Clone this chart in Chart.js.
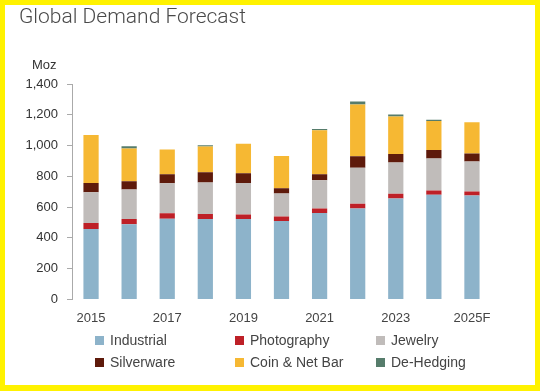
<!DOCTYPE html>
<html>
<head>
<meta charset="utf-8">
<script src="https://cdn.jsdelivr.net/npm/chart.js@4"></script>
<style>
  body { margin: 0; background: #FFF200; font-family: "Liberation Sans", Arial, sans-serif; }
  #frame { position: absolute; left: 5px; top: 5px; width: 530px; height: 380px; background: #fff; }
  #wrap { position: absolute; left: 0; top: 0; width: 540px; height: 391px; }
  #title { position: absolute; left: 19px; top: 4px; font-family: Roboto, sans-serif; font-weight: 300; font-size: 21px; color: #4a4a4a; }
  #unit { position: absolute; left: 32px; top: 57px; font-size: 13px; color: #333; }
  #legend { position: absolute; left: 95px; top: 331px; width: 430px; }
  .item { position: absolute; font-size: 14px; color: #444; white-space: nowrap; line-height: 18px; }
  .box { display: inline-block; width: 9px; height: 9px; margin-right: 6px; vertical-align: 0px; }
</style>
</head>
<body>
<div id="frame"></div>
<div id="wrap"><canvas id="myChart"></canvas></div>
<div id="title">Global Demand Forecast</div>
<div id="unit">Moz</div>
<div id="legend"></div>
<script>
var years = ['2015', '2016', '2017', '2018', '2019', '2020', '2021', '2022', '2023', '2024', '2025F'];

var industrial = [457, 488, 525, 523, 523, 509, 562, 590, 656, 680, 676];
var photography = [40, 35, 35, 32, 28, 29, 28, 31, 31, 27, 26];
var jewelry = [199, 192, 195, 204, 206, 151, 184, 235, 202, 208, 195];
var silverware = [60, 53, 59, 68, 63, 33, 40, 74, 56, 56, 51];
var coinBar = [313, 213, 160, 167, 191, 210, 285, 337, 243, 189, 204];
var deHedging = [0, 15, 0, 8, 0, 0, 9, 20, 14, 7, 0];

var yTicks = [0, 200, 400, 600, 800, 1000, 1200, 1400];

var seriesNames = ['Industrial', 'Photography', 'Jewelry', 'Silverware', 'Coin & Net Bar', 'De-Hedging'];
var seriesColors = ['#8DB3CA', '#BE2027', '#C0BCBA', '#5E1A0B', '#F6B833', '#567C6B'];
var seriesData = [industrial, photography, jewelry, silverware, coinBar, deHedging];

var datasets = seriesData.map(function(data, i) {
    return {
        label: seriesNames[i],
        data: data,
        backgroundColor: seriesColors[i],
        borderWidth: 0,
        barPercentage: 0.4,
        categoryPercentage: 1.0
    };
});

var ctx = document.getElementById('myChart').getContext('2d');
var myChart = new Chart(ctx, {
    type: 'bar',
    data: { labels: years, datasets: datasets },
    options: {
        responsive: true,
        maintainAspectRatio: false,
        animation: false,
        layout: { padding: { left: 0, right: 49, top: 84, bottom: 54 } },
        plugins: {
            legend: { display: false },
            tooltip: { enabled: false }
        },
        scales: {
            x: {
                stacked: true,
                grid: { display: false, drawTicks: false },
                border: { display: false },
                ticks: {
                    autoSkip: false,
                    maxRotation: 0,
                    padding: 11,
                    color: '#444',
                    font: { family: 'Liberation Sans', size: 13 },
                    callback: function(v, i) {
                        return i % 2 === 0 ? this.getLabelForValue(v) : '';
                    }
                }
            },
            y: {
                stacked: true,
                min: 0,
                max: 1400,
                afterFit: function(scale) { scale.width = 72; },
                afterBuildTicks: function(scale) {
                    scale.ticks = yTicks.map(function(v) { return { value: v }; });
                },
                grid: { drawOnChartArea: false, drawTicks: true, tickLength: 5, color: '#AAAAAA' },
                border: { display: true, color: '#AAAAAA', width: 1 },
                ticks: {
                    padding: 9,
                    color: '#333',
                    font: { family: 'Liberation Sans', size: 13 }
                }
            }
        }
    }
});

// legend in three columns, two rows
var legend = document.getElementById('legend');
var colX = [0, 140, 281];
seriesNames.forEach(function(name, i) {
    var el = document.createElement('div');
    el.className = 'item';
    el.style.left = colX[i % 3] + 'px';
    el.style.top = (Math.floor(i / 3) * 21.5) + 'px';
    el.innerHTML = '<span class="box" style="background:' + seriesColors[i] + '"></span>';
    el.appendChild(document.createTextNode(name));
    legend.appendChild(el);
});
</script>
</body>
</html>
